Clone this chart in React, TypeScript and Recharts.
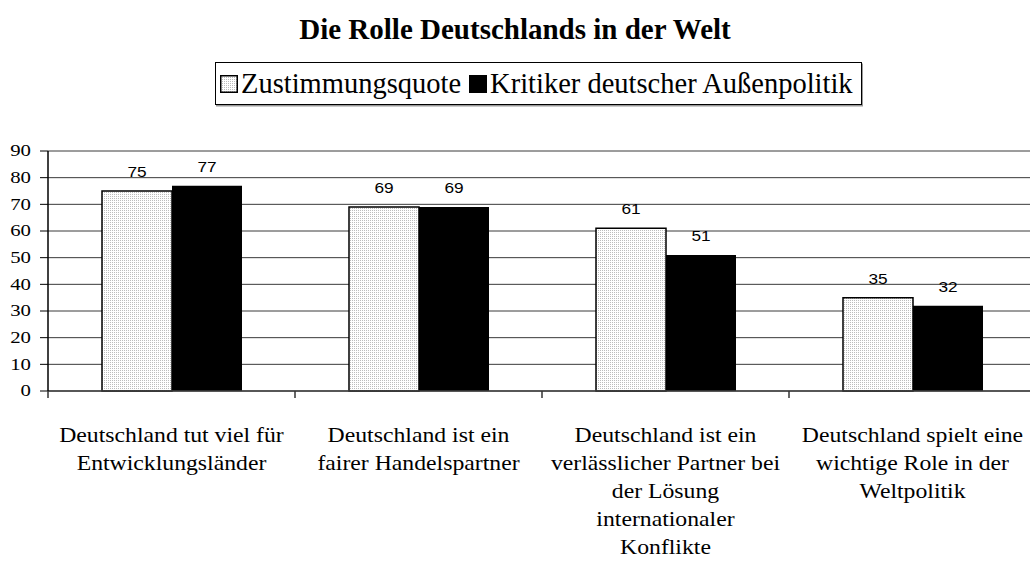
import React from 'react';
import { BarChart, Bar, XAxis, YAxis, CartesianGrid, LabelList, Legend } from 'recharts';

const title = 'Die Rolle Deutschlands in der Welt';
const seriesNames = ['Zustimmungsquote', 'Kritiker deutscher Außenpolitik'];
const categories = [
  'Deutschland tut viel für Entwicklungsländer',
  'Deutschland ist ein fairer Handelspartner',
  'Deutschland ist ein verlässlicher Partner bei der Lösung internationaler Konflikte',
  'Deutschland spielt eine wichtige Role in der Weltpolitik',
];
const categoryLines = [
  ['Deutschland tut viel für', 'Entwicklungsländer'],
  ['Deutschland ist ein', 'fairer Handelspartner'],
  ['Deutschland ist ein', 'verlässlicher Partner bei', 'der Lösung', 'internationaler', 'Konflikte'],
  ['Deutschland spielt eine', 'wichtige Role in der', 'Weltpolitik'],
];
const zustimmung = [75, 69, 61, 35];
const kritiker = [77, 69, 51, 32];
const yTicks = [0, 10, 20, 30, 40, 50, 60, 70, 80, 90];

const data = categories.map((name, i) => ({ name, z: zustimmung[i], k: kritiker[i] }));

const CHART_W = 1040;
const CHART_H = 572;
const MARGIN = { top: 151, right: 4, bottom: 11, left: 0 };
const Y_W = 48;
const PLOT_W = CHART_W - MARGIN.left - MARGIN.right - Y_W;
const SERIF = '"Liberation Serif", "Times New Roman", serif';
const SANS = '"Liberation Sans", Arial, sans-serif';

const stretch = (x: number, y: number, s: number) =>
  `translate(${x} ${y}) scale(${s} 1) translate(${-x} ${-y})`;

const XTick = (props: any) => {
  const { x, y, payload } = props;
  const idx = categories.indexOf(payload.value);
  const lines = categoryLines[idx] || [payload.value];
  const half = payload.offset || PLOT_W / categories.length / 2;
  const bx = x - half;
  return (
    <g>
      <line x1={bx} y1={y} x2={bx} y2={y + 7} stroke="#333" strokeWidth={1.5} />
      <text
        x={x}
        y={y}
        textAnchor="middle"
        fontFamily={SERIF}
        fontSize={21}
        fill="#000"
        transform={stretch(x, y, 1.13)}
      >
        {lines.map((l, i) => (
          <tspan key={i} x={x} y={y + 51 + i * 28}>
            {l}
          </tspan>
        ))}
      </text>
    </g>
  );
};

const YTick = (props: any) => {
  const { x, y, payload } = props;
  return (
    <text
      x={x}
      y={y + 5.5}
      textAnchor="end"
      fontFamily={SERIF}
      fontSize={16}
      fill="#000"
      transform={stretch(x, y, 1.3)}
    >
      {payload.value}
    </text>
  );
};

const ValueLabel = (props: any) => {
  const { x, y, width, value } = props;
  const cx = x + width / 2;
  const ty = y - 14;
  return (
    <text
      x={cx}
      y={ty}
      textAnchor="middle"
      fontFamily={SANS}
      fontSize={15}
      fill="#000"
      transform={stretch(cx, ty, 1.15)}
    >
      {value}
    </text>
  );
};

const Marker = ({ fill }: { fill: string }) => (
  <svg width={18} height={18} style={{ display: 'block', flex: '0 0 auto' }}>
    <rect x={0.75} y={0.75} width={16.5} height={16.5} fill={fill} stroke="#000" strokeWidth={1.5} />
  </svg>
);

const LegendBox = () => (
  <div
    style={{
      boxSizing: 'border-box',
      width: 647,
      height: 43,
      border: '1.5px solid #000',
      boxShadow: '1px 1.5px 0 #999',
      display: 'flex',
      alignItems: 'center',
      paddingLeft: 4,
      fontFamily: SERIF,
      fontSize: 28.5,
      whiteSpace: 'nowrap',
      color: '#000',
      background: '#fff',
    }}
  >
    <Marker fill="url(#dotPattern)" />
    <span style={{ marginLeft: 3, marginRight: 8 }}>{seriesNames[0]}</span>
    <Marker fill="#000" />
    <span style={{ marginLeft: 3 }}>{seriesNames[1]}</span>
  </div>
);

export default function App() {
  return (
    <div
      style={{
        position: 'absolute',
        left: 0,
        top: 0,
        width: 1030,
        height: 572,
        overflow: 'hidden',
        background: '#fff',
      }}
    >
      <svg width={0} height={0} style={{ position: 'absolute' }}>
        <defs>
          <pattern id="dotPattern" width="2" height="2" patternUnits="userSpaceOnUse">
            <rect width="2" height="2" fill="#ffffff" />
            <rect width="1" height="1" fill="#bdbdbd" />
          </pattern>
        </defs>
      </svg>
      <div
        style={{
          position: 'absolute',
          left: 0,
          top: 12,
          width: 1030,
          textAlign: 'center',
          fontFamily: SERIF,
          fontWeight: 'bold',
          fontSize: 29,
          lineHeight: '34px',
          color: '#000',
          zIndex: 2,
        }}
      >
        {title}
      </div>
      <BarChart width={CHART_W} height={CHART_H} data={data} margin={MARGIN} barGap={0}>
        <CartesianGrid vertical={false} stroke="#3a3a3a" strokeWidth={1} />
        <XAxis
          dataKey="name"
          interval={0}
          tickLine={false}
          tickSize={0}
          tickMargin={0}
          height={170}
          tick={<XTick />}
          axisLine={{ stroke: '#404040', strokeWidth: 1.5 }}
        />
        <YAxis
          width={Y_W}
          domain={[0, 90]}
          ticks={yTicks}
          interval={0}
          tickSize={8}
          tickMargin={9}
          tick={<YTick />}
          axisLine={{ stroke: '#000', strokeWidth: 1.5 }}
          tickLine={{ stroke: '#000', strokeWidth: 1 }}
        />
        <Legend
          layout="vertical"
          align="center"
          verticalAlign="middle"
          content={<LegendBox />}
          wrapperStyle={{ position: 'absolute', top: 62, left: 215, width: 647, height: 43 }}
        />
        <Bar
          dataKey="z"
          name={seriesNames[0]}
          fill="url(#dotPattern)"
          stroke="#000"
          strokeWidth={1.5}
          barSize={70}
          isAnimationActive={false}
        >
          <LabelList dataKey="z" content={<ValueLabel />} />
        </Bar>
        <Bar
          dataKey="k"
          name={seriesNames[1]}
          fill="#000"
          barSize={70}
          isAnimationActive={false}
        >
          <LabelList dataKey="k" content={<ValueLabel />} />
        </Bar>
      </BarChart>
    </div>
  );
}
